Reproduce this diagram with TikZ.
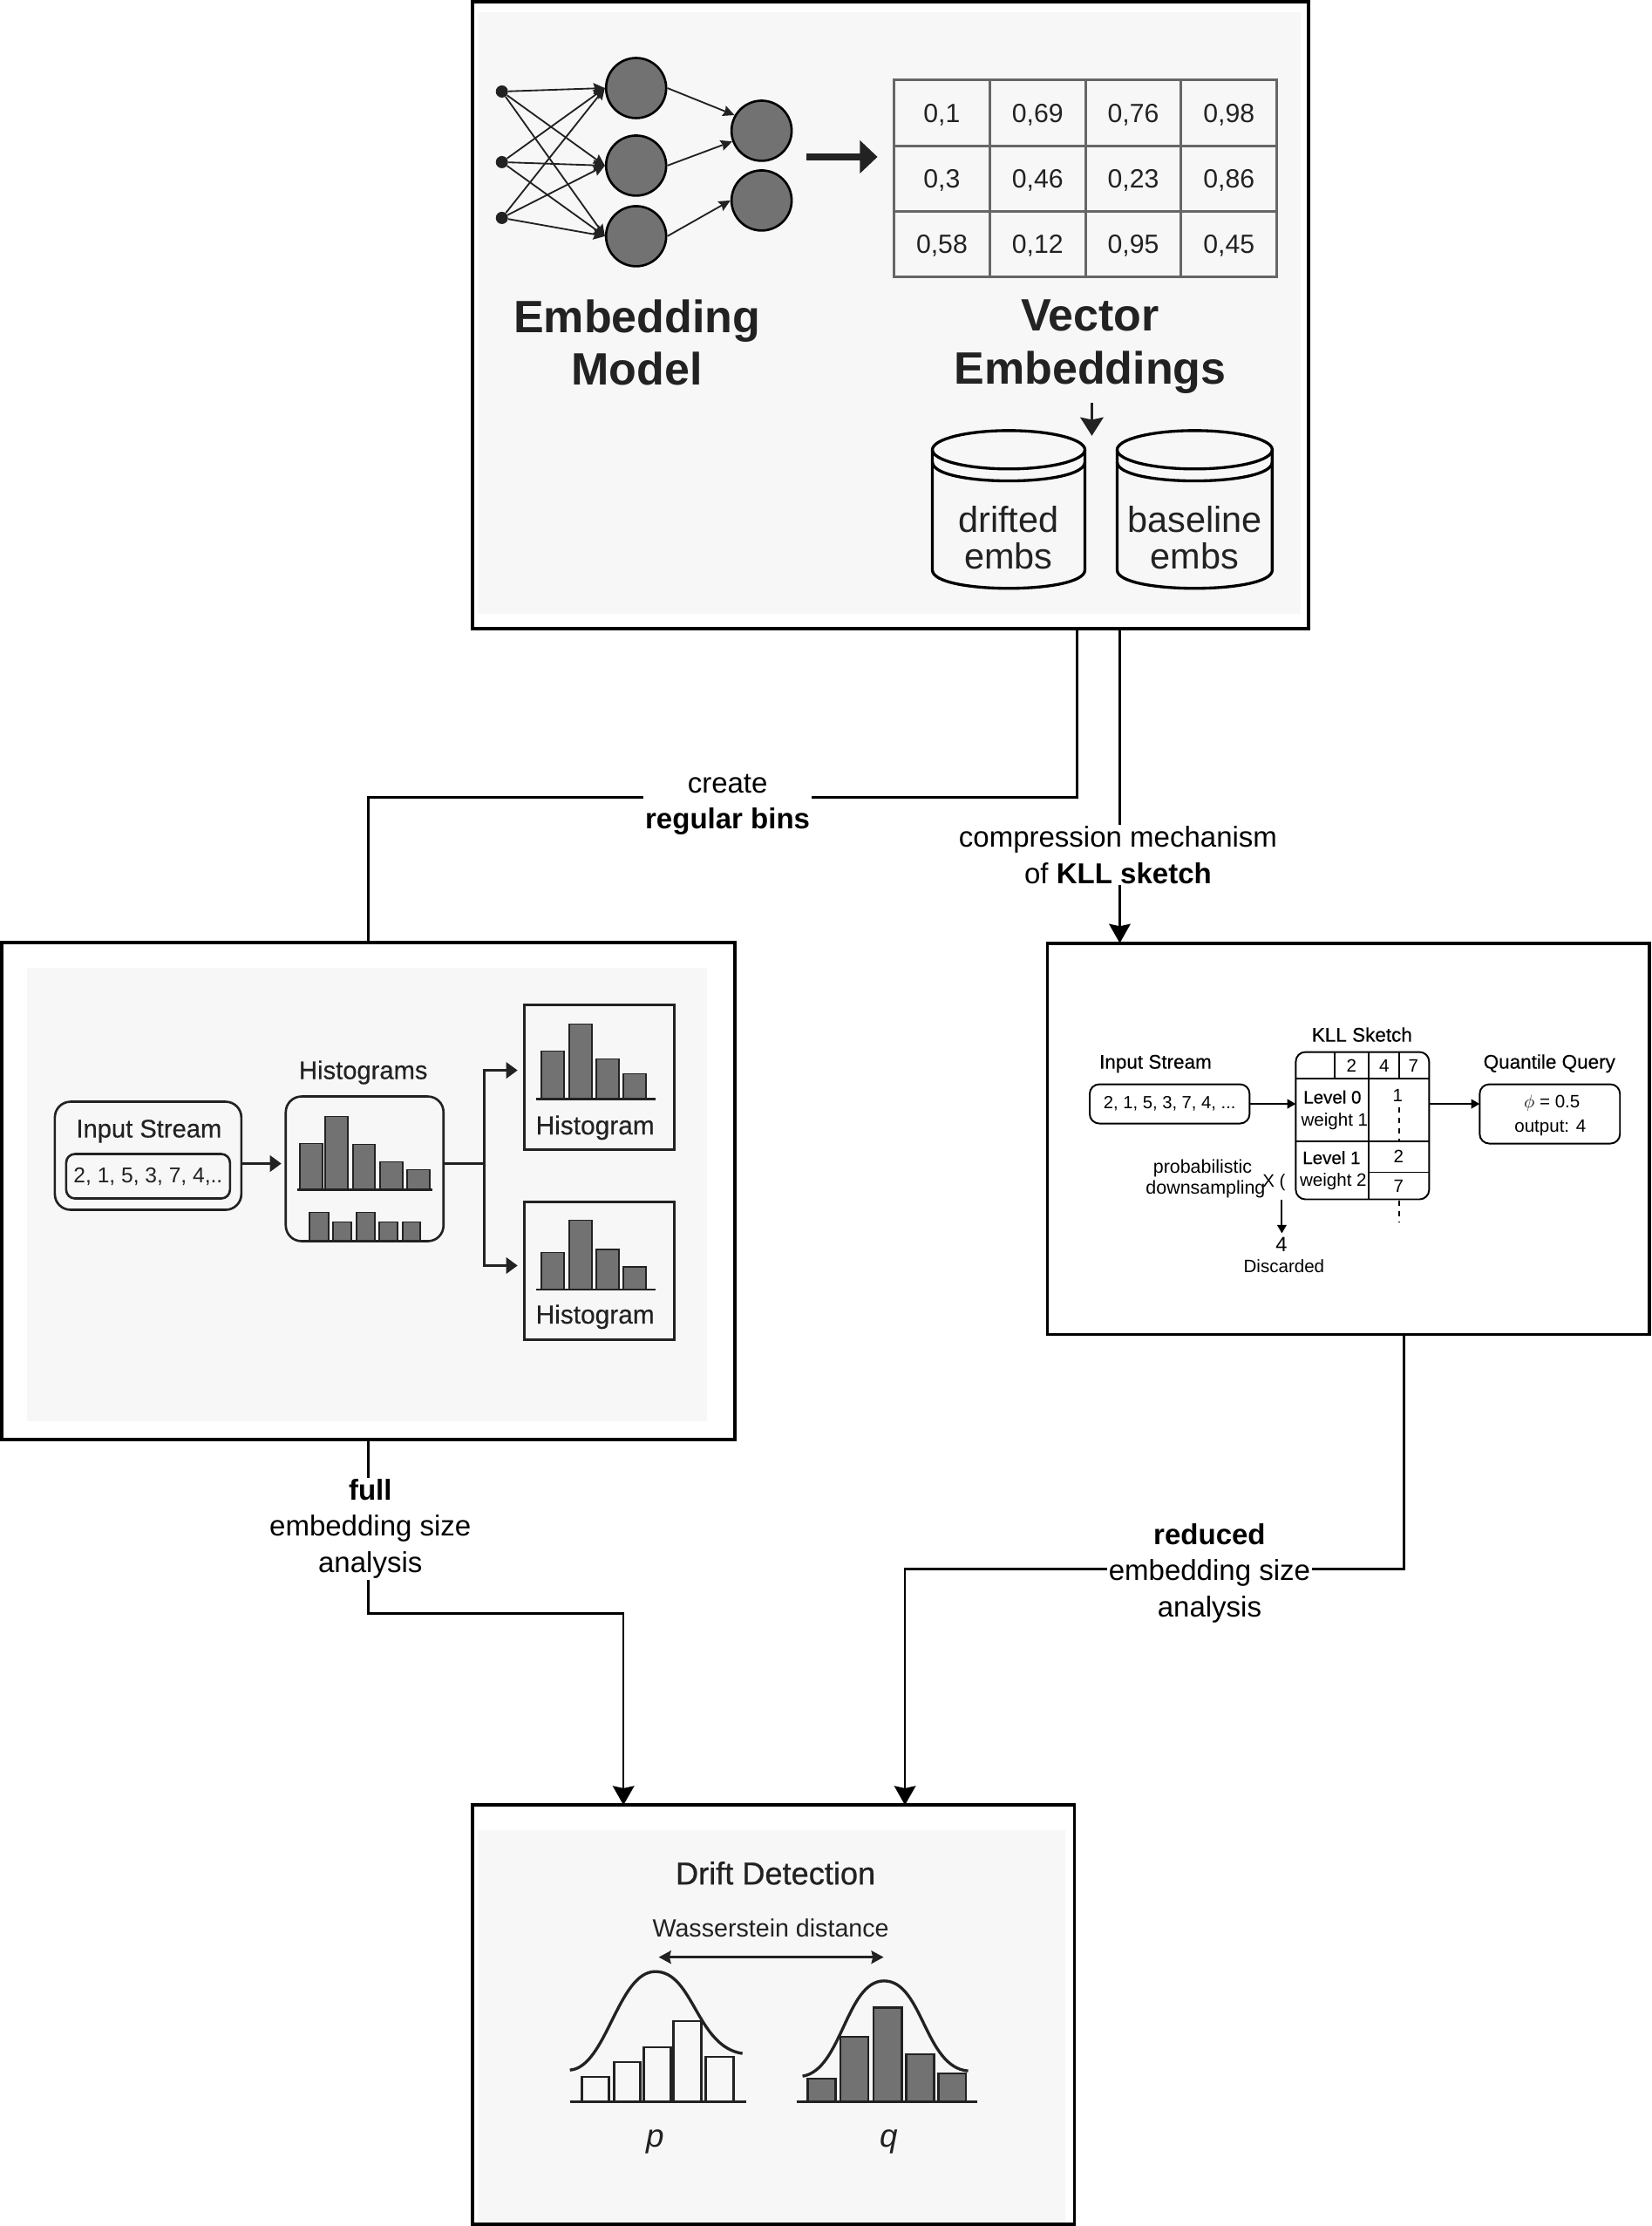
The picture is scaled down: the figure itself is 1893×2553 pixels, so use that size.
\documentclass[tikz,border=0pt]{standalone}
\usepackage{fontspec}
\usetikzlibrary{arrows.meta}
\setmainfont{Liberation Sans}
\newfontfamily\medfont[FakeBold=0.7]{Liberation Sans}
\newfontfamily\semifont[FakeBold=0.3]{Liberation Sans}
\definecolor{panelgray}{HTML}{F7F7F7}
\definecolor{barfill}{HTML}{727272}
\definecolor{inkdark}{HTML}{222222}
\definecolor{gridgray}{HTML}{666666}

\begin{document}
\begin{tikzpicture}[
	x=0.02cm, y=-0.02cm,
	boxwh/.style 2 args={
		inner sep=0pt,
		outer sep=0pt,
		minimum width=#1*0.02cm,
		minimum height=#2*0.02cm,
	},
	outerbox/.style={draw=black, fill=white, line width=2.2pt},
	panel/.style={fill=panelgray},
	unitbox/.style={draw=inkdark, line width=1.5pt},
	roundbox/.style={unitbox, rounded corners=0.36cm},
	kllround/.style={draw=black, line width=1.1pt, rounded corners=0.22cm},
	neuron/.style={circle, draw=black, fill=barfill, line width=1.5pt, minimum size=1.38cm, inner sep=0pt},
	inputdot/.style={circle, fill=inkdark, minimum size=0.28cm, inner sep=0pt},
	emcell/.style={boxwh={109.8}{75.2}, draw=gridgray, line width=1.7pt, text depth=0pt, font=\fontsize{17.2}{20}\selectfont, text=inkdark},
	hbar/.style={draw=inkdark, fill=barfill, line width=1pt},
	hbase/.style={draw=inkdark, line width=1.4pt},
	cylline/.style={draw=black, line width=1.9pt},
	curveline/.style={draw=inkdark, line width=1.9pt},
	% Connectors between the big boxes
	flowline/.style={draw=black, line width=1.4pt},
	flowarrow/.style={flowline, -{Stealth[length=12.5pt, width=14pt, inset=1.5pt]}},
	netarrow/.style={draw=inkdark, line width=1.05pt, -{Stealth[length=7.5pt, width=7pt, inset=1pt]}},
	panelarrow/.style={draw=inkdark, line width=1.7pt, -{Triangle[length=7.5pt, width=10.5pt]}},
	kllarrow/.style={draw=black, line width=1.2pt, -{Triangle[length=5.5pt, width=6pt]}},
	kllline/.style={draw=black, line width=1.1pt},
	kllgap/.style={kllline, dash pattern=on 3.5pt off 3.5pt},
	% Text
	flowlabel/.style={fill=white, inner sep=1pt, align=center, font=\fontsize{18.8}{23.4}\selectfont},
	bigtitle/.style={align=center, font=\fontsize{29.6}{34.5}\selectfont\bfseries, text=inkdark},
	cyltext/.style={align=center, font=\fontsize{23.6}{24}\selectfont, text=inkdark},
	histtext/.style={anchor=base, font=\semifont\fontsize{17}{20}\selectfont, text=inkdark},
	histtitle/.style={histtext, font=\semifont\fontsize{16.6}{20}\selectfont},
	kllhead/.style={anchor=base, font=\semifont\fontsize{12.8}{15}\selectfont, text=black},
	klltext/.style={anchor=base, font=\fontsize{11.7}{14}\selectfont, text=black},
	kllmed/.style={klltext, font=\semifont\fontsize{11.7}{14}\selectfont},
]

% Embedding box
\node[outerbox, boxwh={960}{719}] (topbox) at (1021,361.5) {};
\node[panel, boxwh={945}{690}] (toppanel) at (1019.5,359) {};

\node[inputdot] (in1) at (575,105) {};
\node[inputdot] (in2) at (575,186) {};
\node[inputdot] (in3) at (575,250) {};
\node[neuron] (hid1) at (729,101) {};
\node[neuron] (hid2) at (729,190) {};
\node[neuron] (hid3) at (729,271) {};
\node[neuron] (out1) at (873,150) {};
\node[neuron] (out2) at (873,230) {};

\foreach \a in {in1,in2,in3}
	\foreach \b in {hid1,hid2,hid3}
		\draw[netarrow] (\a) -- (\b.west);
\draw[netarrow] (hid1.east) -- (out1.150);
\draw[netarrow] (hid2.east) -- (out1.200);
\draw[netarrow] (hid3.east) -- (out2.180);

\coordinate (modelout) at (924,180);
\coordinate (tablein) at (1006,180);
\draw[draw=inkdark, line width=4.5pt, -{Triangle[length=11.5pt, width=21pt]}] (modelout) -- (tablein);

\foreach \c/\r/\val in {1/1/{0,1},2/1/{0,69},3/1/{0,76},4/1/{0,98},
	1/2/{0,3},2/2/{0,46},3/2/{0,23},4/2/{0,86},
	1/3/{0,58},2/3/{0,12},3/3/{0,95},4/3/{0,45}}
	\node[emcell] (emb\c\r) at ({1025+109.8*(\c-0.5)},{92+75.2*(\r-0.5)}) {\val};

\node[bigtitle] (modeltitle) at (730,393) {Embedding\\Model};
\node[bigtitle] (vectortitle) at (1250,398) {Vector\\Embeddings};

\coordinate (storetip) at (1252,500);
\draw[draw=inkdark, line width=2pt, -{Stealth[length=12pt, width=15pt, inset=1.5pt]}] (vectortitle.south -| storetip) ++(0,4) -- (storetip);

\foreach \cx/\hw/\lab in {1156.5/87.5/drifted, 1370/89/baseline}{
	\draw[cylline] (\cx,516) ellipse [x radius=\hw, y radius=22];
	\draw[cylline] (\cx-\hw,530) .. controls (\cx-\hw,559) and (\cx+\hw,559) .. (\cx+\hw,530);
	\draw[cylline] (\cx-\hw,516) -- (\cx-\hw,654) .. controls (\cx-\hw,682) and (\cx+\hw,682) .. (\cx+\hw,654) -- (\cx+\hw,516);
	\node[cyltext] (store\lab) at (\cx,617) {\lab\\embs};
}

% Histogram box
\node[outerbox, boxwh={841}{570.5}] (histbox) at (421.5,1366.5) {};
\node[panel, boxwh={780}{521}] (histpanel) at (420,1370.5) {};

\node[roundbox, boxwh={214}{124}] (inputbox) at (169,1326) {};
\node[histtitle] (inputtitle) at (170,1305) {Input Stream};
\node[roundbox, rounded corners=0.2cm, boxwh={188}{51}, font=\fontsize{14}{20}\selectfont, text=inkdark] (inputvals) at (169,1349.5) {2, 1, 5, 3, 7, 4,..};

\node[histtitle] (histstitle) at (416,1238) {Histograms};
\node[roundbox, boxwh={181}{166}] (histsbox) at (417.5,1341) {};
\foreach \xa/\xb/\ytop in {343/369/1312, 372/398/1281, 404/429/1313, 435/461/1333, 466/492/1342}
	\draw[hbar] (\xa,\ytop) rectangle (\xb,1365);
\draw[hbase] (340,1365) -- (495,1365);
\foreach \xa/\xb/\ytop in {354/376/1391, 381/402/1402, 408/429/1391, 434/455/1402, 461/481/1402}
	\draw[hbar] (\xa,\ytop) rectangle (\xb,1423);

\node[unitbox, boxwh={172.5}{166}] (hista) at (686.75,1236) {};
\foreach \xa/\xb/\ytop in {620.6/646.6/1206, 652/678/1175, 683.5/709/1215, 714/740/1232}
	\draw[hbar] (\xa,\ytop) rectangle (\xb,1261);
\draw[hbase] (614,1261) -- (751,1261);
\node[histtext] (histalabel) at (682,1301.5) {Histogram};

\node[unitbox, boxwh={172.5}{158}] (histb) at (686.75,1458) {};
\foreach \xa/\xb/\ytop in {620.6/646.6/1437, 652/678/1400, 683.5/709/1433.5, 714/740/1453.5}
	\draw[hbar] (\xa,\ytop) rectangle (\xb,1479.5);
\draw[hbase] (614,1479.5) -- (751,1479.5);
\node[histtext] (histblabel) at (682,1518.5) {Histogram};

\coordinate (fork) at (554.5,1335);
\coordinate (forka) at (593,1228);
\coordinate (forkb) at (593,1452);
\draw[panelarrow] (inputbox.east |- fork) -- (322,1335);
\draw[draw=inkdark, line width=1.7pt] (histsbox.east |- fork) -- (fork);
\draw[panelarrow] (fork) |- (forka);
\draw[panelarrow] (fork) |- (forkb);

% KLL box
\node[outerbox, boxwh={691}{449}] (kllbox) at (1546.5,1306.5) {};

\node[kllhead] (klltitle) at (1562,1195) {KLL Sketch};
\node[kllhead] (streamtitle) at (1325,1226) {Input Stream};
\node[kllhead] (querytitle) at (1777,1226) {Quantile Query};

\node[kllround, boxwh={183.5}{45}, font=\fontsize{11.5}{14}\selectfont] (stream) at (1341.25,1266.5) {2, 1, 5, 3, 7, 4, ...};
\node[kllround, boxwh={153}{169}] (sketch) at (1562.5,1291.5) {};
\node[kllround, boxwh={161}{68}] (query) at (1777.5,1278) {};

\draw[kllline] (sketch.west |- 0,1237) -- (sketch.east |- 0,1237);
\draw[kllline] (sketch.west |- 0,1309) -- (sketch.east |- 0,1309);
\draw[kllline] (1569.5,1345) -- (sketch.east |- 0,1345);
\draw[kllline] (1569.5,1207) -- (1569.5,1376);
\draw[kllline] (1531,1207) -- (1531,1237);
\draw[kllline] (1605,1207) -- (1605,1237);
\draw[kllgap] (1605,1270) -- (1605,1309);
\draw[kllgap] (1605,1377) -- (1605,1402);

\node[klltext] (top2) at (1550,1230) {2};
\node[klltext] (top4) at (1587.5,1230) {4};
\node[klltext] (top7) at (1621,1230) {7};
\node[kllmed] (level0) at (1528,1266) {Level 0};
\node[klltext] (weight1) at (1530.5,1291.5) {weight 1};
\node[kllmed] (level1) at (1527,1335.5) {Level 1};
\node[klltext] (weight2) at (1529,1361) {weight 2};
\node[klltext] (val1) at (1603,1264) {1};
\node[klltext] (val2) at (1604,1334) {2};
\node[klltext] (val7) at (1604,1367.5) {7};

\node[klltext] (phiq) at (1780,1271) {$\phi$ = 0.5};
\node[klltext] (outq) at (1778,1299) {output: 4};

\draw[kllarrow] (stream.east) -- (sketch.west |- stream.east);
\draw[kllarrow] (sketch.east |- stream.east) -- (query.west |- stream.east);

\node[klltext, font=\fontsize{12.2}{14}\selectfont] (probtext) at (1379,1346) {probabilistic};
\node[klltext, font=\fontsize{12.2}{14}\selectfont] (downtext) at (1382.5,1370) {downsampling};
\node[klltext] (xmark) at (1461,1362) {X (};
\node[klltext, font=\fontsize{13.5}{14}\selectfont] (discval) at (1469.5,1436) {4};
\node[klltext] (disctext) at (1472.5,1460) {Discarded};
\coordinate (discfrom) at (1470,1376);
\coordinate (discto) at (1470,1415);
\draw[kllarrow] (discfrom) -- (discto);

% Drift box
\node[outerbox, boxwh={691}{481}] (driftbox) at (886.5,2311.5) {};
\node[panel, boxwh={674.5}{450}] (driftpanel) at (884.75,2325) {};

\node[anchor=base, font=\medfont\fontsize{20.6}{24}\selectfont, text=inkdark] (drifttitle) at (889,2162) {Drift Detection};
\node[anchor=base, font=\fontsize{16.3}{20}\selectfont, text=inkdark] (wasstext) at (883.5,2222) {Wasserstein distance};

\coordinate (distp) at (755,2245.5);
\coordinate (distq) at (1013,2245.5);
\draw[draw=inkdark, line width=1.6pt, {Stealth[length=8pt, width=8.5pt, inset=1pt]}-{Stealth[length=8pt, width=8.5pt, inset=1pt]}] (distp) -- (distq);

\foreach \xa/\xb/\ytop in {667/698/2383, 703.5/734/2366, 738/769/2349, 772/803.6/2318.7, 808.7/841/2360}
	\draw[draw=inkdark, line width=1.5pt] (\xa,\ytop) rectangle (\xb,2411);
\draw[draw=inkdark, line width=1.8pt] (653,2411) -- (855,2411);
\draw[curveline] (653,2375) .. controls (695,2372) and (708,2262) .. (751,2262) .. controls (795,2262) and (798,2348) .. (851,2356);

\foreach \xa/\xb/\ytop in {926/958/2385, 963.4/995.6/2337, 1001.5/1033.7/2303, 1039/1071/2357, 1076/1107.6/2379}
	\draw[hbar, line width=1.5pt] (\xa,\ytop) rectangle (\xb,2411);
\draw[draw=inkdark, line width=1.8pt] (913,2411) -- (1120,2411);
\draw[curveline] (920,2382) .. controls (965,2375) and (970,2272.7) .. (1013.5,2272.7) .. controls (1058,2272.7) and (1060,2372) .. (1110,2376);

\node[anchor=base, font=\fontsize{21}{24}\selectfont\itshape, text=inkdark] (plabel) at (751,2463) {p};
\node[anchor=base, font=\fontsize{21}{24}\selectfont\itshape, text=inkdark] (qlabel) at (1019,2463) {q};

% Connectors
\coordinate (binsbend) at (1235,915);
\coordinate (kllentry) at (1284,1000);
\coordinate (fullbend) at (714.5,1851);
\coordinate (reducedbend) at (1610,1800);
\coordinate (reducedin) at (1037.5,1800);

\draw[flowline] (binsbend |- topbox.south) -- (binsbend) -| (histbox.north);
\draw[flowarrow] (kllentry |- topbox.south) -- (kllentry |- kllbox.north);
\draw[flowarrow] (histbox.south) |- (fullbend) -- (fullbend |- driftbox.north);
\draw[flowarrow] (reducedbend |- kllbox.south) -- (reducedbend) -- (reducedin) -- (reducedin |- driftbox.north);

\node[flowlabel] (binslabel) at (834,923) {create\\\textbf{regular bins}};
\node[flowlabel] (kllabel) at (1282,981) {compression mechanism\\of \textbf{KLL sketch}};
\node[flowlabel] (fullabel) at (424,1754) {\textbf{full}\\embedding size\\analysis};
\node[flowlabel] (reducedlabel) at (1387,1805) {\textbf{reduced}\\embedding size\\analysis};

\useasboundingbox (0,0) rectangle (1893,2553);
\end{tikzpicture}
\end{document}
